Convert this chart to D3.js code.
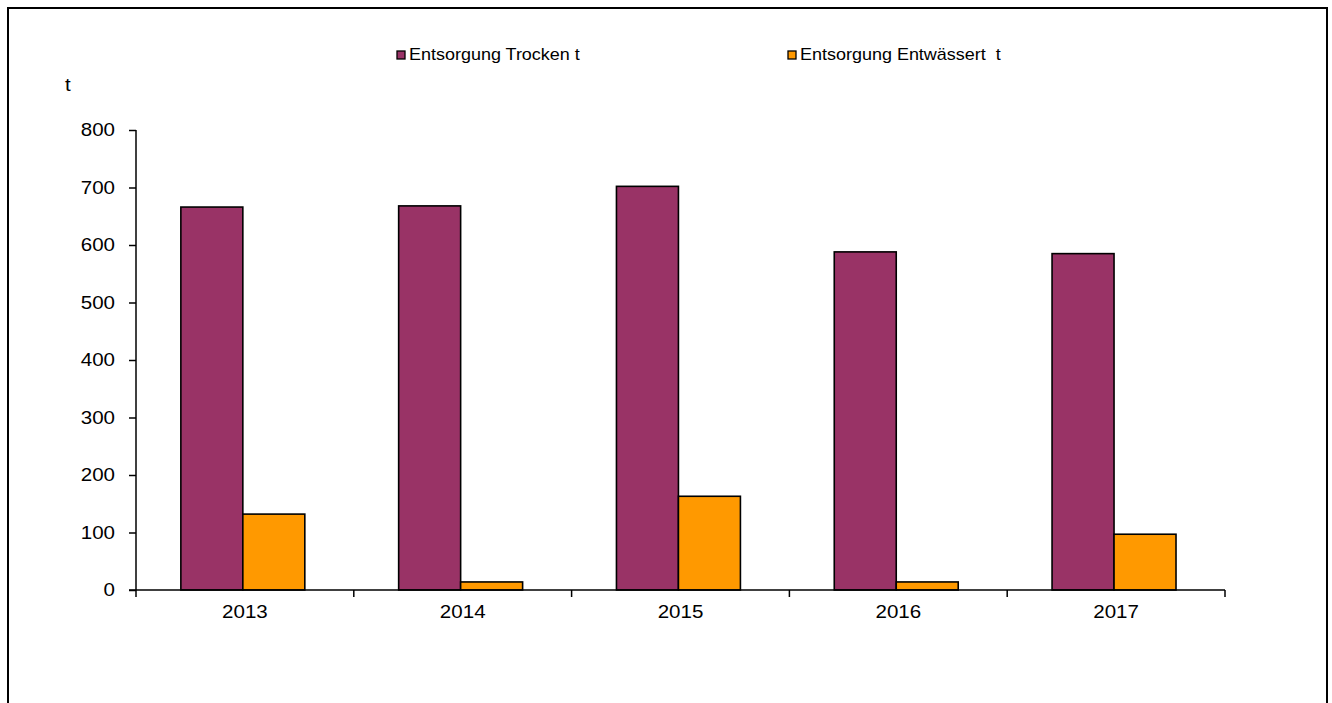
<!DOCTYPE html>
<html><head><meta charset="utf-8">
<script src="https://cdn.jsdelivr.net/npm/d3@7"></script>
<style>html,body{margin:0;padding:0;background:#fff;overflow:hidden}</style>
</head><body>
<svg id="c" width="1332" height="703"></svg>
<script>
const years = ["2013","2014","2015","2016","2017"];
const seriesNames = ["Entsorgung Trocken t", "Entsorgung Entwässert  t"];
const trocken = [666, 668, 702, 588, 585];
const entwaessert = [132, 14, 163, 14, 97];
const yTicks = [0,100,200,300,400,500,600,700,800];
const colors = ["#993366", "#FF9900"];

(function(){
const svg = d3.select("#c");
const font = "Arial, 'Liberation Sans', sans-serif";
const stretch = 1.11;
function widen(sel){
  sel.each(function(){
    const w = this.getComputedTextLength();
    d3.select(this).attr("textLength", w*stretch).attr("lengthAdjust","spacingAndGlyphs");
  });
}

// outer border
svg.append("rect").attr("x",8).attr("y",8).attr("width",1319).attr("height",720)
  .attr("fill","none").attr("stroke","#000").attr("stroke-width",2);

const pl = 136, pr = 1225, pt = 130, pb = 590;
const y = d3.scaleLinear().domain([0,800]).range([pb, pt]);
const x0 = d3.scaleBand().domain(years).range([pl, pr]).paddingInner(0).paddingOuter(0);
const x1 = d3.scaleBand().domain([0,1]).range([0, x0.bandwidth()]).paddingInner(0).paddingOuter(0.757).align(0.478);

const data = years.map((yr,i)=>({yr, vals:[trocken[i], entwaessert[i]]}));

const g = svg.append("g");
g.selectAll("g.grp").data(data).join("g").attr("class","grp")
  .attr("transform", d=>`translate(${x0(d.yr)},0)`)
  .selectAll("rect").data(d=>d.vals.map((v,k)=>({v,k}))).join("rect")
  .attr("x", d=>x1(d.k)).attr("width", x1.bandwidth())
  .attr("y", d=>y(d.v)).attr("height", d=>pb - y(d.v))
  .attr("fill", d=>colors[d.k]).attr("stroke","#000").attr("stroke-width",1.6);

// y axis
const ya = svg.append("g").attr("transform",`translate(${pl},0)`)
  .call(d3.axisLeft(y).tickValues(yTicks).tickSize(7).tickPadding(14).tickFormat(d3.format("d")));
ya.select(".domain").attr("stroke","#000").attr("stroke-width",1.5).attr("d",`M0,${pt}V${pb}`);
ya.selectAll(".tick line").attr("stroke","#000").attr("stroke-width",1.5);
ya.selectAll("text").attr("font-family",font).attr("font-size",18.5).attr("fill","#000").call(widen);

// x axis
const xa = svg.append("g").attr("transform",`translate(0,${pb})`)
  .call(d3.axisBottom(x0).tickSize(0).tickPadding(15));
xa.select(".domain").attr("stroke","#000").attr("stroke-width",1.5).attr("d",`M${pl-7},0H${pr}`);
xa.selectAll("text").attr("font-family",font).attr("font-size",18.5).attr("fill","#000").attr("dy","0.71em").call(widen);
const bounds = years.map(d=>x0(d)).concat([pr]);
xa.selectAll("line.bt").data(bounds).join("line").attr("class","bt")
  .attr("x1",d=>d).attr("x2",d=>d).attr("y1",0).attr("y2",7)
  .attr("stroke","#000").attr("stroke-width",1.5);

// unit label
svg.append("text").attr("x",65).attr("y",91).attr("font-family",font).attr("font-size",18.5).text("t").call(widen);

// legend
const legX = [397, 788];
const leg = svg.append("g");
seriesNames.forEach((n,i)=>{
  leg.append("rect").attr("x",legX[i]).attr("y",51).attr("width",8).attr("height",8)
    .attr("fill",colors[i]).attr("stroke","#000").attr("stroke-width",1.3);
  leg.append("text").attr("x",legX[i]+12).attr("y",60).attr("font-family",font).attr("font-size",16.2)
    .attr("xml:space","preserve").style("white-space","pre").text(n).call(widen);
});
})();
</script>
</body></html>
